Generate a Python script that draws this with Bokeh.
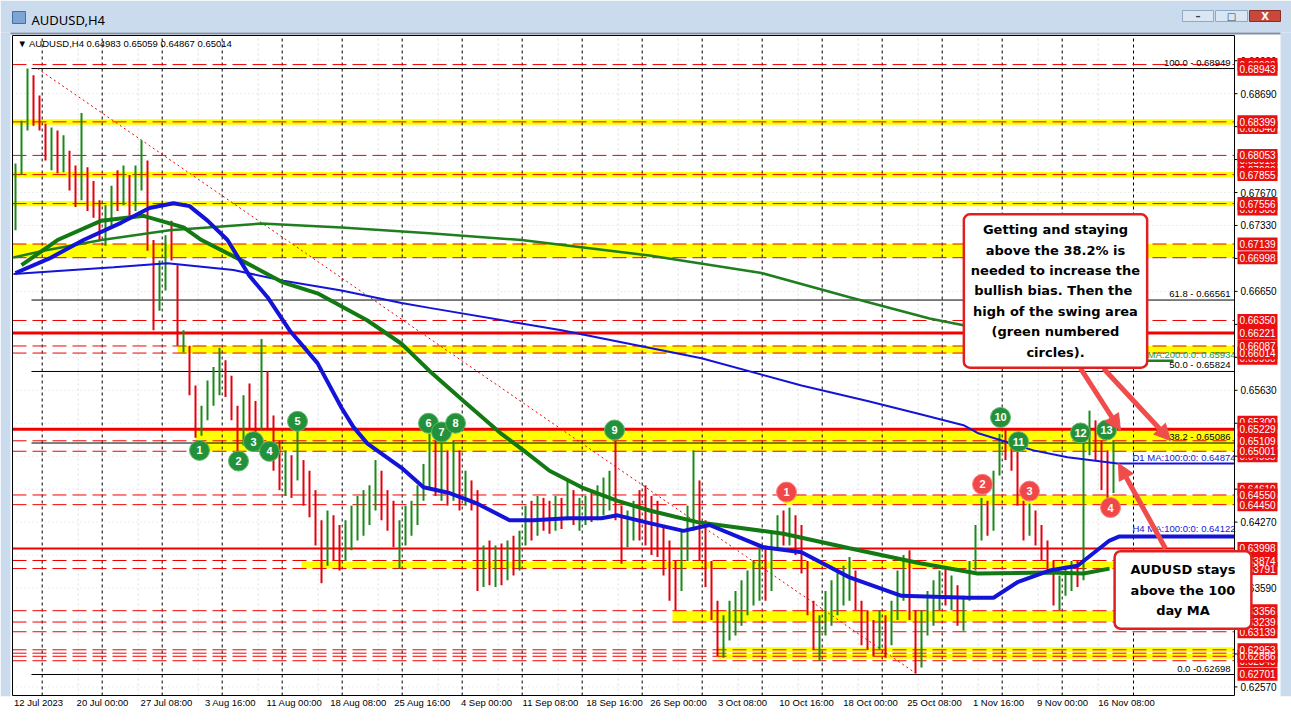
from bokeh.plotting import figure
from bokeh.models import (Range1d, LinearAxis, FixedTicker, Label, Arrow, NormalHead)
from bokeh.core.properties import value
from bokeh.embed import file_html
from bokeh.resources import INLINE

# ---------------- data (AUDUSD H4, each drawn bar = 3 H4 bars) ----------------
bar_high = [0.6797, 0.6841, 0.6895, 0.6888, 0.6867, 0.6838, 0.6834, 0.6831, 0.6826, 0.6810,
            0.6795, 0.6849, 0.6793, 0.6779, 0.6759, 0.6754, 0.6774, 0.6790, 0.6795, 0.6785,
            0.6795, 0.6821, 0.6800, 0.6718, 0.6697, 0.6723, 0.6738, 0.6692, 0.6625, 0.6609,
            0.6568, 0.6547, 0.6573, 0.6587, 0.6607, 0.6594, 0.6578, 0.6547, 0.6558, 0.6570,
            0.6552, 0.6616, 0.6583, 0.6537, 0.6511, 0.6501, 0.6496, 0.6522, 0.6491, 0.6480,
            0.6460, 0.6429, 0.6439, 0.6434, 0.6424, 0.6429, 0.6444, 0.6454, 0.6460, 0.6465,
            0.6491, 0.6480, 0.6460, 0.6449, 0.6429, 0.6444, 0.6449, 0.6465, 0.6487, 0.6518,
            0.6511, 0.6511, 0.6501, 0.6511, 0.6501, 0.6480, 0.6470, 0.6460, 0.6403, 0.6408,
            0.6403, 0.6405, 0.6408, 0.6413, 0.6418, 0.6444, 0.6449, 0.6454, 0.6452, 0.6449,
            0.6454, 0.6452, 0.6470, 0.6460, 0.6452, 0.6454, 0.6457, 0.6465, 0.6473, 0.6480,
            0.6511, 0.6444, 0.6439, 0.6449, 0.6460, 0.6465, 0.6454, 0.6449, 0.6424, 0.6408,
            0.6387, 0.6418, 0.6444, 0.6501, 0.6470, 0.6429, 0.6387, 0.6346, 0.6331, 0.6346,
            0.6356, 0.6367, 0.6377, 0.6387, 0.6401, 0.6403, 0.6418, 0.6434, 0.6439, 0.6442,
            0.6434, 0.6424, 0.6387, 0.6346, 0.6331, 0.6356, 0.6367, 0.6377, 0.6382, 0.6391,
            0.6377, 0.6346, 0.6336, 0.6326, 0.6336, 0.6331, 0.6346, 0.6377, 0.6393, 0.6398,
            0.6336, 0.6336, 0.6356, 0.6367, 0.6377, 0.6380, 0.6372, 0.6362, 0.6351, 0.6387,
            0.6424, 0.6452, 0.6449, 0.6480, 0.6518, 0.6522, 0.6511, 0.6501, 0.6449, 0.6446,
            0.6439, 0.6424, 0.6408, 0.6387, 0.6372, 0.6382, 0.6387, 0.6387, 0.6518, 0.6542,
            0.6532, 0.6511, 0.6501, 0.6511]
bar_low = [0.6728, 0.6785, 0.6831, 0.6836, 0.6831, 0.6800, 0.6790, 0.6787, 0.6788, 0.6769,
           0.6752, 0.6759, 0.6748, 0.6741, 0.6718, 0.6712, 0.6733, 0.6748, 0.6754, 0.6743,
           0.6748, 0.6769, 0.6707, 0.6625, 0.6645, 0.6666, 0.6697, 0.6609, 0.6602, 0.6558,
           0.6514, 0.6516, 0.6532, 0.6547, 0.6558, 0.6556, 0.6532, 0.6498, 0.6506, 0.6522,
           0.6518, 0.6522, 0.6522, 0.6480, 0.6460, 0.6454, 0.6452, 0.6470, 0.6444, 0.6432,
           0.6403, 0.6364, 0.6382, 0.6387, 0.6377, 0.6387, 0.6398, 0.6408, 0.6413, 0.6424,
           0.6439, 0.6429, 0.6418, 0.6401, 0.6379, 0.6403, 0.6413, 0.6424, 0.6449, 0.6460,
           0.6454, 0.6449, 0.6444, 0.6449, 0.6439, 0.6444, 0.6439, 0.6356, 0.6360, 0.6362,
           0.6360, 0.6362, 0.6367, 0.6372, 0.6377, 0.6403, 0.6408, 0.6413, 0.6418, 0.6415,
           0.6418, 0.6420, 0.6429, 0.6424, 0.6418, 0.6424, 0.6427, 0.6429, 0.6434, 0.6439,
           0.6429, 0.6384, 0.6401, 0.6408, 0.6408, 0.6403, 0.6393, 0.6391, 0.6372, 0.6346,
           0.6336, 0.6356, 0.6387, 0.6418, 0.6387, 0.6360, 0.6326, 0.6289, 0.6287, 0.6305,
           0.6310, 0.6320, 0.6331, 0.6341, 0.6346, 0.6346, 0.6356, 0.6398, 0.6403, 0.6403,
           0.6393, 0.6374, 0.6331, 0.6295, 0.6284, 0.6310, 0.6320, 0.6331, 0.6341, 0.6346,
           0.6336, 0.6300, 0.6295, 0.6289, 0.6295, 0.6287, 0.6300, 0.6326, 0.6346, 0.6326,
           0.6271, 0.6277, 0.6310, 0.6320, 0.6336, 0.6341, 0.6336, 0.6320, 0.6315, 0.6346,
           0.6377, 0.6408, 0.6413, 0.6418, 0.6475, 0.6491, 0.6480, 0.6444, 0.6408, 0.6413,
           0.6403, 0.6387, 0.6377, 0.6341, 0.6336, 0.6351, 0.6356, 0.6360, 0.6367, 0.6496,
           0.6491, 0.6460, 0.6452, 0.6457]
bar_close = [0.6790, 0.6836, 0.6883, 0.6852, 0.6836, 0.6810, 0.6821, 0.6795, 0.6821, 0.6774,
             0.6759, 0.6790, 0.6754, 0.6748, 0.6723, 0.6743, 0.6769, 0.6759, 0.6790, 0.6754,
             0.6790, 0.6810, 0.6712, 0.6656, 0.6687, 0.6718, 0.6702, 0.6614, 0.6620, 0.6563,
             0.6522, 0.6542, 0.6568, 0.6583, 0.6594, 0.6563, 0.6537, 0.6511, 0.6552, 0.6542,
             0.6532, 0.6573, 0.6532, 0.6491, 0.6480, 0.6491, 0.6470, 0.6485, 0.6454, 0.6444,
             0.6408, 0.6398, 0.6429, 0.6408, 0.6393, 0.6418, 0.6429, 0.6444, 0.6449, 0.6460,
             0.6480, 0.6439, 0.6429, 0.6408, 0.6418, 0.6434, 0.6444, 0.6460, 0.6480, 0.6491,
             0.6470, 0.6496, 0.6460, 0.6491, 0.6449, 0.6454, 0.6444, 0.6377, 0.6393, 0.6372,
             0.6387, 0.6377, 0.6398, 0.6387, 0.6408, 0.6434, 0.6429, 0.6444, 0.6434, 0.6424,
             0.6444, 0.6434, 0.6460, 0.6434, 0.6439, 0.6449, 0.6439, 0.6454, 0.6465, 0.6470,
             0.6449, 0.6403, 0.6429, 0.6439, 0.6429, 0.6418, 0.6403, 0.6398, 0.6382, 0.6356,
             0.6346, 0.6408, 0.6434, 0.6470, 0.6403, 0.6372, 0.6336, 0.6300, 0.6320, 0.6336,
             0.6341, 0.6356, 0.6362, 0.6377, 0.6393, 0.6362, 0.6408, 0.6424, 0.6418, 0.6434,
             0.6408, 0.6382, 0.6341, 0.6310, 0.6320, 0.6346, 0.6356, 0.6362, 0.6372, 0.6377,
             0.6346, 0.6315, 0.6310, 0.6305, 0.6320, 0.6300, 0.6336, 0.6367, 0.6382, 0.6336,
             0.6284, 0.6326, 0.6346, 0.6356, 0.6362, 0.6351, 0.6362, 0.6331, 0.6346, 0.6382,
             0.6413, 0.6439, 0.6429, 0.6470, 0.6506, 0.6505, 0.6491, 0.6454, 0.6418, 0.6439,
             0.6413, 0.6398, 0.6387, 0.6351, 0.6356, 0.6372, 0.6377, 0.6372, 0.6506, 0.6522,
             0.6506, 0.6475, 0.6460, 0.6501]
H4_PER_BAR = 3

# moving averages: H4 bar index -> value
h4_ma100_bar = [1, 18, 35, 54, 68, 80, 88, 97, 107, 118, 127, 138, 152, 164, 170, 177, 194, 205, 218, 232,
                248, 260, 277, 294, 302, 318, 335, 348, 375, 394, 418, 444, 477, 490, 502, 518, 532, 548, 553]
h4_ma100_val = [0.6684, 0.6699, 0.6718, 0.6736, 0.6751, 0.6756, 0.6753, 0.6738, 0.6718, 0.6681,
                0.6659, 0.6625, 0.6591, 0.6545, 0.6525, 0.6508, 0.6483, 0.6463, 0.6457, 0.6446,
                0.6429, 0.6429, 0.6431, 0.6431, 0.6434, 0.6426, 0.6418, 0.6424, 0.6401, 0.6396,
                0.6370, 0.6351, 0.6349, 0.6349, 0.6365, 0.6377, 0.6382, 0.6408, 0.64122]
h4_ma200_bar = [4, 22, 44, 65, 85, 94, 114, 135, 152, 177, 194, 208, 225, 244, 255, 268, 285, 302, 318,
                342, 385, 418, 452, 482, 518, 535, 548]
h4_ma200_val = [0.6692, 0.6718, 0.6738, 0.6743, 0.6731, 0.6718, 0.6697, 0.6674, 0.6663, 0.6635,
                0.6611, 0.6583, 0.6552, 0.6518, 0.6501, 0.6480, 0.6462, 0.6449, 0.6439, 0.6427,
                0.6415, 0.6400, 0.6385, 0.6374, 0.6375, 0.6374, 0.6379]
d1_ma200_bar = [0, 15, 44, 78, 124, 164, 208, 254, 318, 374, 418, 458, 475, 518, 553]
d1_ma200_val = [0.6700, 0.6707, 0.6718, 0.6728, 0.6735, 0.6731, 0.6725, 0.6718, 0.6702, 0.6684,
                0.6659, 0.6637, 0.6630, 0.6609, 0.65934]
d1_ma100_bar = [0, 50, 77, 110, 135, 164, 194, 208, 274, 344, 394, 427, 452, 475, 482, 510, 527, 552]
d1_ma100_val = [0.6683, 0.6690, 0.6694, 0.6687, 0.6676, 0.6666, 0.6653, 0.6648, 0.6625, 0.6596,
                0.6568, 0.6552, 0.6539, 0.6527, 0.6519, 0.6501, 0.6494, 0.64874]

# horizontal levels
dashed_levels = [0.68990, 0.68399, 0.68053, 0.67855, 0.67556, 0.67139, 0.66998, 0.66350, 0.66087,
                 0.66014, 0.65109, 0.65001, 0.64550, 0.64450, 0.63874, 0.63791, 0.63356, 0.63239,
                 0.63139, 0.62953, 0.62918, 0.62886, 0.62840]
thick_levels = [0.66221, 0.65229]
thin_solid_levels = [0.63998]
band_lo = [0.68370, 0.67827, 0.67528, 0.66998, 0.66014, 0.65001, 0.64450, 0.63791, 0.63239, 0.62928, 0.62861]
band_hi = [0.68425, 0.67882, 0.67583, 0.67139, 0.66087, 0.65229, 0.64550, 0.63862, 0.63356, 0.62978, 0.62911]
band_start = [-0.5, -0.5, -0.5, -0.5, 82, 91, 385, 144, 329.5, 352, 352]

price_boxes = [0.68943, 0.68399, 0.68053, 0.67855, 0.67556, 0.67139, 0.66998, 0.66350, 0.66221,
               0.66087, 0.66014, 0.65229, 0.65109, 0.65001, 0.64550, 0.64450, 0.63998, 0.63874,
               0.63791, 0.63356, 0.63239, 0.63139, 0.62953, 0.62886, 0.62701]
hidden_boxes = [0.68990, 0.68340, 0.68010, 0.67900, 0.67500, 0.65960, 0.65300, 0.64955, 0.64610, 0.62840]

fib_start_bar = 9
fib_prices = [0.68949, 0.66561, 0.65824, 0.65086, 0.62698]
fib_texts = ["100.0 - 0.68949", "61.8 - 0.66561", "50.0 - 0.65824", "38.2 - 0.65086", "0.0 -0.62698"]
fib_high_bar, fib_low_bar = 12, 452

green_labels = ["1", "2", "3", "4", "5", "6", "7", "8", "9", "10", "11", "12", "13"]
green_bar = [93, 112.5, 120, 128, 142, 207.5, 214, 221, 300.5, 493.5, 502.5, 533.5, 546.5]
green_price = [0.6501, 0.6490, 0.6510, 0.6500, 0.6531, 0.6529, 0.6520, 0.6529, 0.6522, 0.6535, 0.6510, 0.6519, 0.6522]
red_labels = ["1", "2", "3", "4"]
red_bar = [386.5, 484.5, 508, 548.5]
red_price = [0.6458, 0.6466, 0.6459, 0.6442]

date_label_bars = [0, 32, 64, 96, 128, 160, 192, 224, 256, 288, 320, 352, 384, 416, 448, 480, 512, 544]
date_labels = ["12 Jul 2023", "20 Jul 00:00", "27 Jul 08:00", "3 Aug 16:00", "11 Aug 00:00",
               "18 Aug 08:00", "25 Aug 16:00", "4 Sep 00:00", "11 Sep 08:00", "18 Sep 16:00",
               "26 Sep 00:00", "3 Oct 08:00", "10 Oct 16:00", "18 Oct 00:00", "25 Oct 08:00",
               "1 Nov 16:00", "9 Nov 00:00", "16 Nov 08:00"]
price_ticks = [round(0.62570 + 0.0034 * k, 5) for k in range(20)]
week_sep_bars = [14.35 + 30 * k for k in range(18)] + [560]

# ---------------- geometry helpers (window pixels -> chart coordinates) ----------------
def X(px):
    return (px - 13) / 2.0


def P(py):
    return 0.69651 - 0.00010316 * py


FR_L, FR_R = X(0), X(1291)
FR_T, FR_B = P(0), P(696)
CH_L, CH_R = -0.5, 610.5          # chart pane (price scale starts at CH_R)
CH_T, CH_B = P(35), P(695)

RED = "#f00000"
LAB_FONT = "Liberation Sans"
CHROME = "#cbdbee"

p = figure(width=1291, height=721, output_backend="svg", toolbar_location=None,
           x_range=Range1d(FR_L, FR_R), y_range=Range1d(FR_B, FR_T),
           x_axis_location=None, y_axis_location=None,
           min_border_left=0, min_border_right=0, min_border_top=0, min_border_bottom=25)
p.background_fill_color = "white"
p.border_fill_color = "white"
p.outline_line_color = None
p.grid.visible = False

# time axis (real axis)
label_centre = [b + 12.5 for b in date_label_bars]
xax = LinearAxis(ticker=FixedTicker(ticks=label_centre))
xax.major_label_overrides = {float(t): s for t, s in zip(label_centre, date_labels)}
xax.major_tick_out = 0
xax.major_tick_in = 0
xax.minor_tick_line_color = None
xax.major_label_standoff = 0
xax.major_label_text_font = LAB_FONT
xax.major_label_text_font_size = "9.5px"
xax.major_label_text_color = "black"
xax.axis_line_color = None
p.add_layout(xax, "below")

# window chrome
p.quad(left=[FR_L], right=[FR_R], top=[FR_T], bottom=[P(32)], fill_color=CHROME, line_color=None)
p.quad(left=[FR_L, X(1280)], right=[X(10), FR_R], top=[P(32)] * 2, bottom=[FR_B] * 2,
       fill_color=CHROME, line_color=None)
p.quad(left=[X(1182), X(1215)], right=[X(1213), X(1247)], top=[P(10)] * 2, bottom=[P(21)] * 2,
       fill_color="#dbe6f3", line_color="#8ea8c8", line_width=1)
p.quad(left=[X(1249)], right=[X(1280)], top=[P(10)], bottom=[P(21)],
       fill_color="#c9483c", line_color="#8c2d24", line_width=1)
p.text(x=[X(1197.5), X(1231), X(1264.5)], y=[P(16)] * 3, text=["\u2013", "\u25a1", "X"],
       text_align="center", text_baseline="middle", text_color=["#2b3f5c", "#2b3f5c", "white"],
       text_font=value("DejaVu Sans"), text_font_size="10px", text_font_style="bold")
p.quad(left=[X(12)], right=[X(25)], top=[P(11)], bottom=[P(23)], fill_color="#7da4d4",
       line_color="#48709f")
p.text(x=[X(31)], y=[P(19)], text=["AUDUSD,H4"], text_baseline="middle",
       text_font=value("Noto Sans"), text_font_size="13px", text_color="black")

# faint grid
p.segment(x0=[CH_L] * len(price_ticks), x1=[CH_R] * len(price_ticks), y0=price_ticks, y1=price_ticks,
          line_color="#dcdcdc", line_width=1, line_dash="1 3")
faint_v = [s + 18 for s in week_sep_bars[:-1]]
p.segment(x0=faint_v, x1=faint_v, y0=[CH_B] * len(faint_v), y1=[CH_T] * len(faint_v),
          line_color="#dcdcdc", line_width=1, line_dash="2 3")

# yellow bands
p.quad(left=band_start, right=[CH_R] * len(band_lo), bottom=band_lo, top=band_hi,
       fill_color="#ffff00", line_color=None)

# weekly separators
p.segment(x0=week_sep_bars, x1=week_sep_bars, y0=[CH_B] * len(week_sep_bars), y1=[CH_T] * len(week_sep_bars),
          line_color="black", line_width=1, line_dash="3 3")

# red level lines
p.segment(x0=[CH_L] * len(dashed_levels), x1=[CH_R] * len(dashed_levels), y0=dashed_levels, y1=dashed_levels,
          line_color=RED, line_width=1, line_dash="14 6")
p.segment(x0=[CH_L] * len(thick_levels), x1=[CH_R] * len(thick_levels), y0=thick_levels, y1=thick_levels,
          line_color=RED, line_width=3)
p.segment(x0=[CH_L] * len(thin_solid_levels), x1=[CH_R] * len(thin_solid_levels), y0=thin_solid_levels,
          y1=thin_solid_levels, line_color=RED, line_width=2)

# fibonacci levels + diagonal
p.segment(x0=[fib_start_bar] * len(fib_prices), x1=[CH_R] * len(fib_prices), y0=fib_prices, y1=fib_prices,
          line_color="black", line_width=1)
p.segment(x0=[fib_high_bar], y0=[fib_prices[0]], x1=[fib_low_bar], y1=[fib_prices[-1]],
          line_color=RED, line_width=1, line_dash="2 3")
p.text(x=[608.5] * len(fib_prices), y=fib_prices, text=fib_texts, text_align="right",
       text_baseline="bottom", y_offset=-1, text_font=value(LAB_FONT), text_font_size="9.5px",
       text_color="black")

# price bars
n = len(bar_close)
cx = [H4_PER_BAR * j + 1 for j in range(n)]
opens = [bar_low[0]] + bar_close[:-1]
cols = ["#1a8a1a" if c >= o else "#e4000f" for c, o in zip(bar_close, opens)]
p.segment(x0=cx, x1=cx, y0=bar_low, y1=bar_high, line_color=cols, line_width=2)

# moving averages
p.line(d1_ma200_bar + [580], d1_ma200_val + [d1_ma200_val[-1]], line_color="#1f7f1f", line_width=2.5)
p.line(d1_ma100_bar + [CH_R], d1_ma100_val + [d1_ma100_val[-1]], line_color="#1414d8", line_width=2)
p.line(h4_ma200_bar, h4_ma200_val, line_color="#137a13", line_width=4)
p.line(h4_ma100_bar + [CH_R], h4_ma100_val + [h4_ma100_val[-1]], line_color="#1414d8", line_width=4)

p.text(x=[559.5], y=[d1_ma100_val[-1]], text=["D1 MA:100:0:0: %.5f" % d1_ma100_val[-1]],
       text_baseline="bottom", y_offset=-1, text_font=value(LAB_FONT), text_font_size="9.5px",
       text_color="#1414d8")
p.text(x=[559.5], y=[h4_ma100_val[-1]], text=["H4 MA:100:0:0: %.5f" % h4_ma100_val[-1]],
       text_baseline="bottom", y_offset=-2, text_font=value(LAB_FONT), text_font_size="9.5px",
       text_color="#1414d8")
p.text(x=[567], y=[d1_ma200_val[-1]], text=["MA:200:0:0: %.5f" % d1_ma200_val[-1]],
       text_baseline="bottom", y_offset=-1, text_font=value(LAB_FONT), text_font_size="9.5px",
       text_color="#1f9a1f")

# chart pane border
p.segment(x0=[CH_L, CH_L, CH_L, CH_R], x1=[CH_R, CH_R, CH_L, CH_R],
          y0=[CH_T, CH_B, CH_B, CH_B], y1=[CH_T, CH_B, CH_T, CH_T], line_color="black", line_width=1)
p.segment(x0=[X(10)], x1=[X(1280)], y0=[P(33)], y1=[P(33)], line_color="#7f8fa6", line_width=2)

# header
p.text(x=[2], y=[P(43)], text=["\u25bc AUDUSD,H4  0.64983 0.65059 0.64867 0.65014"],
       text_baseline="middle", text_font=value(LAB_FONT), text_font_size="9.5px", text_color="black")

# numbered circles
p.scatter(green_bar, green_price, size=20, marker="circle", fill_color="#23913a", line_color="#5cb86a")
p.text(x=green_bar, y=green_price, text=green_labels, text_align="center", text_baseline="middle",
       text_color="white", text_font=value(LAB_FONT), text_font_size="11px", text_font_style="bold")
p.scatter(red_bar, red_price, size=20, marker="circle", fill_color="#f04848", line_color="#ff8080")
p.text(x=red_bar, y=red_price, text=red_labels, text_align="center", text_baseline="middle",
       text_color="white", text_font=value(LAB_FONT), text_font_size="11px", text_font_style="bold")

# price scale (ticks + labels) on the right of the chart pane
p.segment(x0=[CH_R] * len(price_ticks), x1=[CH_R + 1.5] * len(price_ticks), y0=price_ticks, y1=price_ticks,
          line_color="black", line_width=1)
p.text(x=[CH_R + 3] * len(price_ticks), y=price_ticks, text=["%.5f" % t for t in price_ticks],
       text_baseline="middle", text_font=value(LAB_FONT), text_font_size="10px", text_color="black")
for group in (hidden_boxes, price_boxes):
    p.rect(x=[CH_R + 11.5] * len(group), y=group, width=20, height=13, height_units="screen",
           fill_color="#e81010", line_color=None)
    p.text(x=[CH_R + 11.5] * len(group), y=group, text=["%.5f" % b for b in group],
           text_align="center", text_baseline="middle", text_font=value(LAB_FONT),
           text_font_size="10px", text_color="white")

# arrows
AR = "#f04c4c"
for xs, ys, xe, ye in [(533.5, 0.65855, 553.5, 0.65215), (545, 0.65855, 578.5, 0.65112),
                       (576, 0.63998, 552.5, 0.64875)]:
    p.add_layout(Arrow(end=NormalHead(size=16, fill_color=AR, line_color=AR),
                       x_start=xs, y_start=ys, x_end=xe, y_end=ye, line_color=AR, line_width=5))

# text boxes
p.add_layout(Label(x=X(1055), y=P(290.5),
                   text="Getting and staying\nabove the 38.2% is\nneeded to increase the\nbullish bias.  Then the\nhigh of the swing area\n(green numbered\ncircles).",
                   text_align="center", text_baseline="middle", text_font="DejaVu Sans",
                   text_font_style="bold", text_font_size="13px", text_line_height=1.36,
                   text_color="black", background_fill_color="white", border_line_color="#e02020",
                   border_line_width=2.5, border_radius=6,
                   padding=dict(left=7, right=7, top=8, bottom=8)))
p.add_layout(Label(x=X(1182.5), y=P(589.5), text="AUDUSD stays\nabove the 100\nday MA",
                   text_align="center", text_baseline="middle", text_font="DejaVu Sans",
                   text_font_style="bold", text_font_size="13px", text_line_height=1.35,
                   text_color="black", background_fill_color="white", border_line_color="#e02020",
                   border_line_width=2.5, border_radius=6,
                   padding=dict(left=16, right=16, top=11, bottom=11)))

open("out.html", "w").write(file_html(p, INLINE))
